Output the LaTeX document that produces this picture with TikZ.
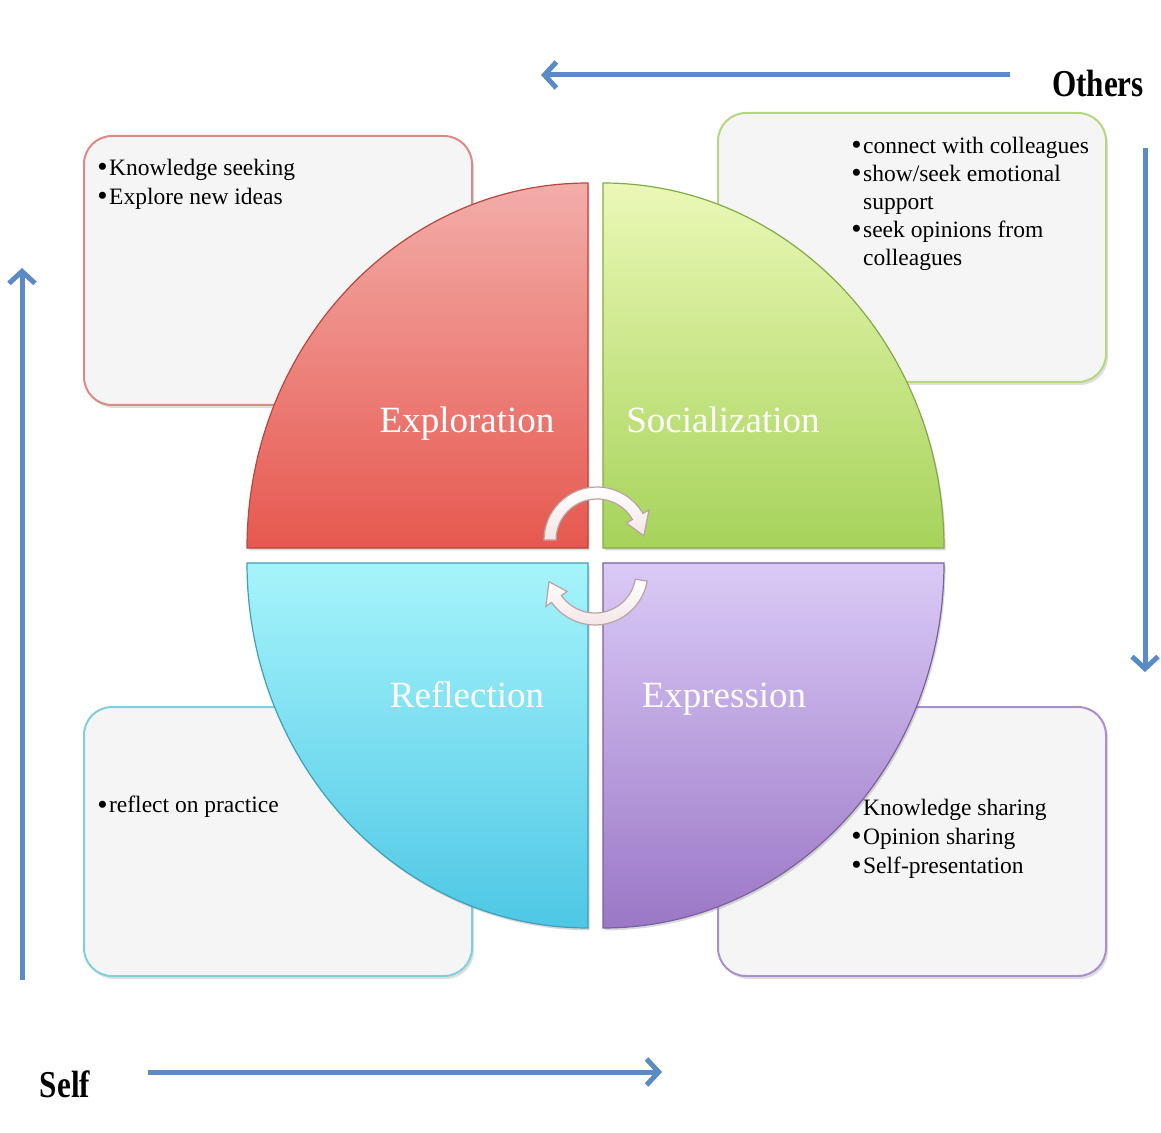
\documentclass[tikz,border=0pt]{standalone}
\usepackage{fontspec}
\setmainfont{Liberation Serif}
\usetikzlibrary{arrows.meta, shadows}

\definecolor{axisblue}{HTML}{5A8BC6}
\definecolor{explTop}{HTML}{F3ADA9}
\definecolor{explBot}{HTML}{E6584F}
\definecolor{sociTop}{HTML}{EBF8B6}
\definecolor{sociBot}{HTML}{A6D35A}
\definecolor{reflTop}{HTML}{A6F4FB}
\definecolor{reflBot}{HTML}{4EC7E5}
\definecolor{exprTop}{HTML}{DACAF6}
\definecolor{exprBot}{HTML}{9B77C6}
\definecolor{explLine}{HTML}{DC8A86}
\definecolor{sociLine}{HTML}{B6D680}
\definecolor{reflLine}{HTML}{7FCFDF}
\definecolor{exprLine}{HTML}{A98FCF}
\definecolor{turnFill}{HTML}{F3E4E4}
\definecolor{turnLine}{HTML}{B9A2A2}

\newcommand{\bul}{\makebox[0.5em][l]{\raisebox{-0.05em}{\scalebox{1.25}{\textbullet}}}}
\newcommand{\ind}{\hspace*{0.5em}}

\begin{document}
\begin{tikzpicture}[
        x=0.5pt, y=-0.5pt,
        infobox/.style={rounded corners=14pt, fill=gray!8, line width=1pt,
            drop shadow={opacity=0.25, shadow xshift=1pt, shadow yshift=-1.5pt}},
        quarter/.style={line width=0.6pt,
            drop shadow={opacity=0.3, shadow xshift=0.8pt, shadow yshift=-1.2pt}},
        qlabel/.style={text=white, anchor=base, font=\fontsize{18.5}{22}\selectfont},
        listtext/.style={anchor=north west, inner sep=0pt, align=left,
            font=\fontsize{11.75}{14.4}\selectfont},
        axis/.style={draw=axisblue, line width=2.5pt,
            -{Straight Barb[length=6pt, width=13pt, line width=2.5pt]}},
        axlabel/.style={font=\bfseries\fontsize{19}{22}\selectfont},
        turn/.style={top color=white, bottom color=turnFill, draw=turnLine, line width=0.6pt}
    ]
    \useasboundingbox (0,0) rectangle (1161,1133);

    % Boxes with the lists
    \draw[infobox, draw=explLine] (84,136) rectangle (472,405);
    \draw[infobox, draw=sociLine] (718,113) rectangle (1106,382);
    \draw[infobox, draw=reflLine] (84,707) rectangle (472,976);
    \draw[infobox, draw=exprLine] (718,707) rectangle (1106,976);

    \node[listtext] (expl-list) at (97,159) {\bul Knowledge seeking\\ \bul Explore new ideas};
    \node[listtext, font=\fontsize{11.75}{14}\selectfont] (soci-list) at (851,137)
        {\bul connect with colleagues\\ \bul show/seek emotional\\ \ind support\\ \bul seek opinions from\\ \ind colleagues};
    \node[listtext] (refl-list) at (97,796) {\bul reflect on practice};
    \node[listtext] (expr-list) at (851,799) {\ind Knowledge sharing\\ \bul Opinion sharing\\ \bul Self-presentation};

    % Quarters of the circle
    \path[quarter, draw=explBot!80!black, top color=explTop, bottom color=explBot]
        (588,548) -- (247,548) arc[start angle=180, end angle=270, x radius=341, y radius=365] -- cycle;
    \path[quarter, draw=sociBot!80!black, top color=sociTop, bottom color=sociBot]
        (603,548) -- (603,183) arc[start angle=270, end angle=360, x radius=341, y radius=365] -- cycle;
    \path[quarter, draw=reflBot!80!black, top color=reflTop, bottom color=reflBot]
        (588,563) -- (247,563) arc[start angle=180, end angle=90, x radius=341, y radius=365] -- cycle;
    \path[quarter, draw=exprBot!80!black, top color=exprTop, bottom color=exprBot]
        (603,563) -- (944,563) arc[start angle=0, end angle=90, x radius=341, y radius=365] -- cycle;

    \node[qlabel] (expl) at (467,433) {Exploration};
    \node[qlabel] (soci) at (723,433) {Socialization};
    \node[qlabel] (refl) at (467,707) {Reflection};
    \node[qlabel] (expr) at (724,707) {Expression};

    % Turning arrows in the middle
    \begin{scope}[shift={(597,540)}]
        \path[turn] (180:53) arc[start angle=180, end angle=330, radius=53] -- (330:60) -- (355:47)
            -- (330:34) -- (330:41) arc[start angle=330, end angle=180, radius=41] -- cycle;
    \end{scope}
    \begin{scope}[shift={(595,572)}]
        \path[turn] (10:53) arc[start angle=10, end angle=145, radius=53] -- (145:60) -- (168:47)
            -- (145:34) -- (145:41) arc[start angle=145, end angle=10, radius=41] -- cycle;
    \end{scope}

    % Axes
    \coordinate (oth-a) at (1010,75);
    \coordinate (oth-b) at (541,75);
    \coordinate (down-a) at (1145,148);
    \coordinate (down-b) at (1145,672);
    \coordinate (up-a) at (22,980);
    \coordinate (up-b) at (22,268);
    \coordinate (self-a) at (148,1072);
    \coordinate (self-b) at (662,1072);
    \draw[axis] (oth-a) -- (oth-b);
    \draw[axis] (down-a) -- (down-b);
    \draw[axis] (up-a) -- (up-b);
    \draw[axis] (self-a) -- (self-b);

    \node[axlabel] (others) at (1098,84) {\scalebox{0.82}[1]{Others}};
    \node[axlabel] (self) at (65,1084) {\scalebox{0.82}[1]{Self}};

\end{tikzpicture}
\end{document}
